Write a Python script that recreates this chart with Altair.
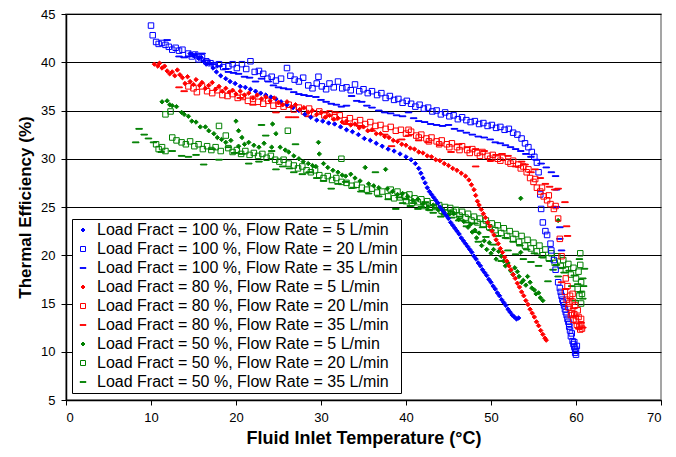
import altair as alt
import pandas as pd

# ---- data (x = fluid inlet temperature °C, y = thermal efficiency %) ----
b5 = [(14.6,40.9),(15.0,40.7),(15.3,40.8),(15.6,40.4),(15.9,40.5),(16.2,40.1),(16.5,39.8),(16.9,39.9),(17.3,39.4),(17.7,39.0),
      (18.2,38.6),(18.8,38.3),(19.3,38.0),(19.9,37.8),(20.5,37.5),(21.1,37.4),(21.7,37.2),(22.3,37.0),(22.9,36.8),(23.5,36.6),
      (24.1,36.4),(24.7,36.2),(25.3,35.9),(26.0,35.6),(26.7,35.3),(27.4,35.0),(28.1,34.6),(28.8,34.3),(29.5,34.0),(30.2,33.9),
      (30.9,33.7),(31.6,33.6),(32.3,33.3),(33.0,33.0),(33.7,32.8),(34.4,32.5),(35.1,32.1),(35.8,31.9),(36.5,31.6),(37.2,31.3),
      (37.9,31.0),(38.6,30.8),(39.3,30.5),(40.0,30.2),(40.6,29.9),(41.1,29.5),(41.5,29.0),(41.75,28.5),(42.0,28.0),(42.25,27.5),
      (42.5,27.0),(42.75,26.6),(43.0,26.3),(43.25,26.0),(43.5,25.7),(43.75,25.4),(44.0,25.0),(44.25,24.7),(44.5,24.4),(44.75,24.1),
      (45.0,23.8),(45.25,23.4),(45.5,23.1),(45.75,22.8),(46.0,22.5),(46.25,22.2),(46.5,21.8),(46.75,21.5),(47.0,21.2),(47.25,20.9),
      (47.5,20.6),(47.75,20.3),(48.0,19.9),(48.25,19.6),(48.5,19.2),(48.75,18.9),(49.0,18.5),(49.25,18.2),(49.5,17.9),(49.75,17.5),
      (50.0,17.2),(50.25,16.8),(50.5,16.5),(50.75,16.1),(51.0,15.8),(51.25,15.4),(51.5,15.1),(51.75,14.8),(52.0,14.4),(52.25,14.1),
      (52.5,13.8),(52.75,13.6),(53.0,13.4),(53.25,13.5)]

b20 = [(10.0,43.8),(10.2,42.8),(10.6,42.1),(10.9,41.9),(11.3,42.0),(11.7,41.8),(12.1,41.6),(12.5,41.3),(12.9,41.5),(13.3,41.2),
       (13.7,41.3),(14.4,40.9),(14.8,40.6),(15.2,40.8),(15.6,40.3),(16.0,40.5),(16.5,40.1),(17.0,39.9),(17.5,39.7),(18.0,39.8),
       (18.5,39.5),(19.1,39.6),(19.6,39.8),(20.1,39.4),(20.7,39.8),(21.2,39.3),(21.7,40.1),(22.2,39.0),(22.7,39.1),(23.2,38.8),
       (23.7,38.3),(24.2,38.5),(24.7,38.1),(25.3,38.3),(26.0,39.4),(26.4,38.6),(26.9,38.2),(27.4,38.0),(27.9,38.4),(28.5,37.6),
       (29.0,37.3),(29.5,37.8),(29.7,38.5),(30.1,37.5),(30.6,37.2),(31.0,37.8),(31.5,37.4),(32.0,38.0),(32.5,37.3),(33.0,37.4),
       (33.5,37.1),(34.0,37.7),(34.5,37.0),(35.0,37.2),(35.5,36.8),(36.0,37.0),(36.6,36.6),(37.1,36.8),(37.6,36.3),(38.1,36.5),
       (38.6,36.1),(39.1,36.2),(39.6,35.8),(40.1,36.0),(40.6,35.7),(41.1,35.4),(41.6,35.6),(42.1,35.2),(42.6,35.3),(43.1,34.9),
       (43.6,35.0),(44.1,34.6),(44.6,34.8),(45.1,34.4),(45.6,34.5),(46.1,34.1),(46.6,34.3),(47.1,34.0),(47.6,33.8),(48.1,33.9),
       (48.6,33.6),(49.1,33.7),(49.6,33.4),(50.1,33.5),(50.6,33.2),(51.1,33.3),(51.6,33.0),(52.1,33.1),(52.6,32.7),(53.1,32.5),
       (53.6,32.1),(54.0,31.6),(54.4,31.2),(54.8,30.7),(55.1,30.2),(55.4,29.6),(55.6,28.6),(55.8,26.3),(55.9,24.8),(56.1,23.4),
       (56.4,22.5),(56.6,22.1),(57.0,21.2),(57.1,20.5),(57.4,19.5),(57.6,18.5),(57.9,17.2),(58.1,16.6),(58.3,15.8),(58.5,15.1),
       (58.7,14.4),(58.9,13.8),(59.1,13.1),(59.2,12.6),(59.4,11.6),(59.6,11.1),(59.8,10.5),(59.9,10.3),(60.0,9.7),(59.7,10.8),
       (59.3,12.2),(59.0,13.4),(58.6,14.8),(58.2,16.2),(58.4,15.4),(58.8,14.1),(59.2,12.9),(59.5,11.9),(59.8,11.0),(60.0,10.1),
       (60.1,10.6),(59.9,9.9)]

b35 = [(11.9,42.3),(13.3,40.6),(13.9,40.5),(14.4,40.6),(16.0,40.9),(16.6,40.2),(17.3,39.8),(18.0,39.6),(18.8,39.3),(19.1,39.0),
       (19.7,38.9),(20.3,38.8),(21.0,38.5),(21.6,38.4),(22.3,38.0),(23.0,38.3),(23.8,38.0),(24.4,37.6),(25.0,37.4),(25.6,37.3),
       (26.2,37.2),(26.8,36.9),(27.4,36.7),(28.0,36.6),(28.6,36.5),(29.4,36.4),(30.0,36.1),(30.6,35.9),(31.2,35.7),(31.8,35.6),
       (32.4,35.4),(33.0,35.5),(33.6,36.5),(34.2,36.0),(34.8,35.9),(35.4,35.5),(36.0,35.3),(36.8,35.0),(37.5,34.8),(38.2,34.7),
       (38.9,34.5),(39.6,34.4),(40.3,34.8),(40.9,34.2),(41.5,33.9),(42.2,33.8),(42.9,33.6),(43.6,33.5),(44.3,33.4),(45.0,33.5),
       (45.7,33.1),(46.4,32.9),(47.1,32.7),(47.8,32.5),(48.5,32.3),(49.2,32.2),(49.9,32.0),(50.5,31.7),(51.1,31.6),(51.7,31.4),
       (52.3,31.2),(52.9,31.0),(53.5,30.8),(54.1,30.5),(54.7,30.2),(55.3,29.9),(55.9,29.5),(56.5,29.1),(57.1,28.6),(57.6,28.2),
       (57.7,26.8),(57.7,25.0),(58.1,22.9),(58.1,21.7),(58.3,20.5)]

r5 = [(10.4,39.8),(10.8,39.6),(11.0,39.9),(11.3,39.4),(11.6,39.6),(11.9,39.1),(12.2,38.8),(12.5,39.0),(12.8,38.6),(13.1,39.2),
      (13.4,38.7),(13.7,38.4),(14.0,37.8),(14.3,38.5),(14.6,38.0),(15.0,37.7),(15.3,38.2),(15.7,37.6),(16.0,37.9),(16.4,37.3),
      (16.8,37.6),(17.2,37.9),(17.6,37.2),(18.0,37.5),(18.4,37.0),(18.8,37.3),(19.2,36.9),(19.6,37.1),(20.0,36.7),(20.5,37.0),
      (21.0,36.6),(21.5,36.8),(22.0,36.3),(22.5,36.6),(23.0,36.2),(23.5,36.4),(24.0,36.0),(24.5,36.3),(25.0,35.8),(25.5,35.6),
      (26.0,35.9),(26.5,35.4),(27.0,35.6),(27.5,35.1),(28.0,35.3),(28.5,34.8),(29.0,35.0),(29.5,34.6),(30.0,34.8),(30.5,34.3),
      (31.0,34.5),(31.5,34.1),(32.0,34.2),(32.5,33.8),(33.0,33.9),(33.5,33.5),(34.0,33.6),(34.5,33.2),(35.0,33.3),(35.5,32.9),
      (36.0,33.0),(36.5,32.6),(37.0,32.6),(37.5,32.3),(38.0,32.2),(38.5,31.9),(39.0,31.8),(39.5,31.5),(40.0,31.4),(40.5,31.1),
      (41.0,31.0),(41.5,30.7),(42.0,30.6),(42.5,30.3),(43.0,30.2),(43.5,29.9),(44.0,29.8),(44.5,29.5),(45.0,29.3),(45.5,29.0),
      (46.0,28.8),(46.5,28.5),(47.0,28.2),(47.4,27.8),(47.7,27.3),(48.0,26.8),(48.2,26.2),(48.4,25.6),(48.6,25.2),(48.85,24.75),
      (49.1,24.3),(49.35,23.9),(49.6,23.4),(49.85,23.0),(50.1,22.5),(50.35,22.1),(50.6,21.6),(50.85,21.2),(51.1,20.7),(51.35,20.3),
      (51.6,19.8),(51.85,19.4),(52.1,18.9),(52.35,18.5),(52.6,18.0),(52.85,17.6),(53.1,17.1),(53.35,16.7),(53.6,16.2),(53.85,15.8),
      (54.1,15.3),(54.35,14.9),(54.6,14.4),(54.85,14.0),(55.1,13.6),(55.35,13.1),(55.6,12.7),(55.85,12.2),(56.1,11.8),(56.35,11.4),
      (56.5,11.2)]

r20 = [(14.4,37.5),(15.0,37.3),(15.4,36.9),(16.0,37.5),(16.6,37.0),(17.2,36.8),(17.8,37.1),(18.4,36.6),(19.0,36.5),(19.6,36.7),
       (20.2,36.3),(20.8,36.4),(21.4,36.0),(22.0,36.2),(22.6,35.9),(23.2,35.7),(23.8,36.0),(24.4,35.5),(25.0,35.7),(25.6,35.4),
       (26.2,35.6),(26.8,35.1),(27.4,35.3),(28.0,34.9),(28.6,35.2),(29.2,34.7),(29.8,34.9),(30.4,34.5),(31.0,34.7),(31.6,34.3),
       (32.2,34.5),(32.8,34.0),(33.4,34.2),(34.0,33.8),(34.6,34.0),(35.2,33.6),(35.8,33.8),(36.4,33.4),(37.0,33.5),(37.6,33.1),
       (38.2,33.3),(38.8,32.9),(39.4,33.0),(40.0,32.6),(40.6,32.8),(41.2,32.4),(41.8,32.5),(42.4,32.1),(43.0,32.2),(43.6,31.8),
       (44.2,31.9),(44.8,31.5),(45.4,31.6),(46.0,31.2),(46.6,31.3),(47.2,30.9),(47.8,31.0),(48.4,30.6),(49.0,30.7),(49.6,30.3),
       (50.2,30.4),(50.8,30.0),(51.4,30.1),(52.0,29.7),(52.6,29.8),(53.2,29.4),(53.8,29.2),(54.2,28.6),(54.6,28.0),(55.0,27.6),
       (55.4,27.0),(55.8,26.6),(56.2,26.1),(56.6,25.7),(57.0,25.3),(57.4,24.8),(57.9,23.8),(58.1,21.7),(58.3,19.9),(58.7,16.2),
       (58.9,15.4),(59.1,14.6),(59.3,15.8),(59.5,14.0),(59.7,13.3),(59.9,14.8),(60.1,12.8),(60.3,13.6),(60.5,12.3),(60.6,12.8),
       (59.0,16.8),(59.2,15.0),(59.4,13.8),(59.6,15.2),(59.8,13.9),(60.0,13.2),(60.2,14.3),(60.4,12.6),(60.6,13.4),(60.7,12.4),
       (58.8,17.6),(59.6,16.0),(40.3,33.0),(41.5,32.2),(42.7,31.8),(43.9,31.5),(45.1,31.2),(46.3,30.9),(47.5,30.6),(48.7,30.3),
       (49.9,30.0),(51.1,29.8),(52.3,29.5),(53.5,29.0),(54.4,28.9),(55.2,27.9),(56.0,27.0),(56.8,26.2),(57.6,25.1)]

r35 = [(13.3,37.4),(13.9,37.0),(20.5,36.3),(22.0,35.6),(24.7,34.8),(26.2,34.3),(27.0,34.3),(28.5,34.4),(30.5,34.8),(31.7,34.8),
       (33.0,33.6),(34.5,33.4),(36.0,32.9),(37.5,32.5),(38.3,31.3),(39.5,32.0),(40.3,32.4),(41.5,31.9),(42.6,31.7),(44.0,31.4),
       (45.3,30.7),(46.2,31.5),(47.2,31.2),(48.2,31.0),(48.2,29.2),(49.2,30.8),(50.0,29.8),(50.6,30.4),(51.3,30.5),(52.0,30.3),
       (52.9,29.2),(53.6,29.7),(54.0,29.4),(54.7,28.6),(55.2,28.9),(55.8,28.0),(56.4,27.4),(56.9,27.1),(57.5,26.8),(57.9,26.9),
       (58.7,25.5),(58.9,23.0),(59.0,22.0),(58.3,17.2),(58.8,16.5),(59.3,15.5),(59.7,14.5),(60.0,13.7),(60.3,12.4),(60.6,13.0),
       (60.8,12.5)]

g5 = [(11.3,35.9),(11.9,36.0),(12.2,35.6),(12.5,35.5),(13.0,35.4),(13.6,34.8),(13.9,34.6),(14.4,34.4),(14.8,33.9),(15.3,33.8),
      (15.8,33.3),(16.4,33.3),(16.8,32.9),(17.4,32.6),(17.8,32.2),(18.3,32.0),(18.8,31.7),(19.4,31.9),(20.0,33.9),(20.3,32.9),
      (20.7,32.2),(20.3,31.3),(21.0,31.5),(21.5,31.7),(22.1,31.4),(22.7,31.2),(23.3,31.6),(24.2,31.2),(24.3,33.6),(24.7,32.6),
      (25.2,31.2),(25.8,30.9),(26.2,30.7),(26.8,30.3),(27.4,30.0),(27.9,29.7),(28.5,29.5),(29.0,29.3),(29.4,29.2),(29.7,31.7),
      (29.8,30.5),(30.3,29.5),(30.8,29.1),(31.4,28.8),(32.0,28.6),(32.5,28.3),(32.9,28.2),(33.5,28.4),(34.0,28.0),(34.6,27.7),
      (35.2,29.1),(35.6,27.4),(36.2,27.2),(36.8,27.0),(37.6,28.9),(37.8,26.9),(38.4,26.6),(39.0,26.3),(39.6,26.4),(40.2,26.1),
      (40.8,25.7),(41.4,25.8),(42.0,25.3),(42.6,25.0),(43.2,25.2),(43.8,24.7),(44.4,24.5),(45.0,24.2),(45.6,24.3),(46.2,23.7),
      (46.8,23.5),(47.3,22.9),(47.8,22.4),(48.3,21.8),(48.9,21.0),(49.5,20.6),(50.0,20.2),(50.6,19.6),(51.2,19.9),(51.7,18.9),
      (52.3,18.4),(52.8,18.7),(53.3,17.8),(53.8,17.4),(54.3,17.8),(54.8,16.6),(55.3,16.0),(55.8,15.6),(56.1,15.3),(53.5,20.3),
      (53.5,25.9),(57.9,23.6),(47.6,23.2),(48.1,22.6),(48.6,22.3),(49.2,21.5),(49.8,21.3),(50.3,20.6),(50.9,20.4),(51.5,19.4),
      (52.0,19.2),(52.6,18.0),(53.1,18.3),(53.6,17.2),(54.1,16.9),(54.6,17.2),(55.1,16.4),(55.6,16.1)]

g20 = [(11.7,34.6),(12.3,34.9),(10.6,31.5),(10.9,31.0),(11.3,31.2),(11.7,30.8),(12.5,32.2),(13.0,31.9),(13.6,31.7),(14.1,31.5),
       (14.6,31.8),(15.1,31.3),(15.6,31.5),(16.1,31.0),(16.6,31.3),(17.1,30.9),(17.6,31.2),(18.0,33.4),(18.2,30.8),(18.8,32.4),
       (19.1,31.1),(19.6,30.7),(20.1,30.9),(20.6,30.5),(21.1,30.8),(21.6,30.4),(22.1,30.6),(22.6,30.3),(23.1,30.5),(23.6,30.1),
       (24.1,30.3),(24.6,29.9),(25.1,29.7),(25.6,29.9),(26.1,32.9),(26.2,29.5),(26.8,29.3),(27.3,29.0),(27.8,29.2),(28.3,28.8),
       (28.8,28.6),(29.3,28.8),(29.8,28.3),(30.3,28.0),(30.8,28.2),(31.3,27.8),(31.8,28.0),(32.4,30.0),(32.4,27.6),(33.0,27.5),
       (33.6,27.2),(34.2,27.3),(34.8,27.0),(35.4,26.8),(36.0,26.9),(36.6,26.5),(37.2,26.6),(37.9,26.1),(38.6,25.9),(39.3,26.0),
       (40.0,25.6),(40.7,25.4),(41.4,25.5),(42.1,25.1),(42.8,24.9),(43.5,25.0),(44.2,24.6),(44.9,24.4),(45.6,24.5),(46.3,24.1),
       (47.0,23.9),(47.7,23.6),(48.4,23.4),(49.1,23.2),(49.8,22.9),(50.5,22.6),(51.2,22.3),(51.9,22.0),(52.6,21.7),(53.3,21.4),
       (54.0,21.0),(54.7,20.7),(55.4,20.4),(56.1,20.0),(56.8,19.7),(57.5,19.2),(58.2,18.9),(58.8,18.5),(59.4,18.0),(60.0,17.6),
       (60.2,16.5),(60.4,15.8),(60.5,19.0),(60.6,17.2),(38.2,26.8),(39.0,26.6),(39.8,26.2),(40.4,26.3),(41.0,25.9),(41.8,25.8),
       (42.5,25.6),(43.2,25.4),(43.9,25.2),(44.6,25.0),(45.2,24.9),(45.9,24.7),(46.6,24.5),(47.3,24.3),(48.0,24.0),(48.7,23.8),
       (49.4,23.6),(50.1,23.3),(50.8,23.1),(51.5,22.8),(52.2,22.5),(52.9,22.2),(53.6,22.0),(54.3,21.6),(55.0,21.3),(55.7,21.0),
       (56.4,20.6),(57.1,20.2),(57.8,19.9),(58.5,19.5),(59.1,19.1),(59.7,18.7),(60.3,18.3),(60.5,20.2),(60.7,16.0),(60.6,15.0)]

g35 = [(8.2,31.7),(8.6,33.1),(9.2,32.5),(9.7,32.1),(10.3,31.7),(11.2,30.7),(12.5,30.8),(13.6,30.3),(14.4,30.2),(15.3,30.4),
       (16.2,29.4),(17.2,31.0),(18.0,29.9),(19.1,31.2),(19.8,30.6),(20.7,30.5),(21.5,29.5),(22.7,29.7),(23.0,33.5),(23.5,32.4),
       (24.2,30.8),(24.7,28.9),(25.5,29.2),(26.3,29.0),(26.8,28.6),(27.0,31.5),(27.8,28.4),(28.6,28.6),(29.5,28.0),(30.3,27.7),
       (31.2,26.9),(32.0,27.4),(32.9,27.6),(33.8,27.0),(34.7,26.6),(35.6,26.4),(36.4,28.6),(36.8,26.1),(37.9,25.8),(38.8,24.8),
       (39.6,25.4),(40.5,25.1),(41.4,24.8),(42.3,25.5),(43.2,24.4),(44.1,24.0),(45.3,24.5),(46.2,23.6),(47.1,23.0),(48.0,22.4),
       (48.5,21.4),(49.4,21.9),(50.3,21.1),(51.2,19.4),(52.0,20.5),(52.9,20.1),(53.8,19.6),(54.7,19.3),(55.6,18.9),(56.7,17.3),
       (57.3,18.5),(57.9,17.8),(58.6,18.2),(59.5,16.8),(59.9,15.3),(60.2,17.0),(60.5,16.2),(60.8,15.5),(61.0,18.6),
       (39.2,26.0),(40.0,25.8),(40.9,25.4),(41.8,25.0),(42.7,24.7),(43.6,24.9),(44.5,24.2),(45.4,23.9),(46.3,24.0),(47.2,23.4),
       (48.1,23.3),(49.0,22.9),(50.0,22.6),(50.8,22.0),(51.7,21.8),(52.6,21.4),(53.4,21.0),(54.2,20.6),(55.1,20.2),(56.0,19.8),
       (56.9,19.4),(57.7,19.0),(58.4,18.7),(59.2,18.4),(59.8,17.9),(60.4,19.6),(60.8,17.6),(60.9,16.8)]

series_names = [
    "Load Fract = 100 %, Flow Rate = 5 L/min",
    "Load Fract = 100 %, Flow Rate = 20 L/min",
    "Load Fract = 100 %, Flow Rate = 35 L/min",
    "Load Fract = 80 %, Flow Rate = 5 L/min",
    "Load Fract = 80 %, Flow Rate = 20 L/min",
    "Load Fract = 80 %, Flow Rate = 35 L/min",
    "Load Fract = 50 %, Flow Rate = 5 L/min",
    "Load Fract = 50 %, Flow Rate = 20 L/min",
    "Load Fract = 50 %, Flow Rate = 35 L/min",
]
series_data = [b5, b20, b35, r5, r20, r35, g5, g20, g35]
x_ticks = [0, 10, 20, 30, 40, 50, 60, 70]
y_ticks = [5, 10, 15, 20, 25, 30, 35, 40, 45]

# ---- styling ----
BLUE, RED, GREEN = "#0000FF", "#FF0000", "#008000"
stroke_range = [BLUE] * 3 + [RED] * 3 + [GREEN] * 3
DIAMOND = "M0,-0.8L0.8,0L0,0.8L-0.8,0Z"
DASH = "M-1.2,-0.15H1.2V0.15H-1.2Z"
shape_range = [DIAMOND, "square", DASH] * 3
fill_range = []
for c in [BLUE, RED, GREEN]:
    fill_range += [c, "transparent", c]

# draw order: green first, then squares/dashes, diamonds (5 L/min) of blue and red on top
draw_order = [6, 7, 8, 1, 2, 4, 5, 0, 3]
rows = []
for i in draw_order:
    for (x, y) in series_data[i]:
        rows.append({"temp": x, "eff": y, "series": series_names[i]})
df = pd.DataFrame(rows)

legend = alt.Legend(
    title=None, orient="none", legendX=6, legendY=205,
    fillColor="white", strokeColor="black", padding=3,
    labelFont="Liberation Sans", labelFontSize=16, labelColor="black",
    labelLimit=500, symbolSize=25, symbolStrokeWidth=1, rowPadding=3,
    labelOffset=6, symbolOffset=0,
)

chart = alt.Chart(df).mark_point(strokeWidth=1, opacity=1).encode(
    x=alt.X("temp:Q",
            scale=alt.Scale(domain=[0, 70], nice=False),
            axis=alt.Axis(values=x_ticks, title="Fluid Inlet Temperature (°C)", grid=False,
                          labelFontSize=13, titleFontSize=18, titlePadding=5, labelPadding=6)),
    y=alt.Y("eff:Q",
            scale=alt.Scale(domain=[5, 45], nice=False, zero=False),
            axis=alt.Axis(values=y_ticks, title="Thermal Efficiency (%)", grid=True,
                          labelFontSize=13, titleFontSize=17, titlePadding=6, labelPadding=6)),
    stroke=alt.Stroke("series:N", scale=alt.Scale(domain=series_names, range=stroke_range), legend=legend),
    fill=alt.Fill("series:N", scale=alt.Scale(domain=series_names, range=fill_range), legend=legend),
    shape=alt.Shape("series:N", scale=alt.Scale(domain=series_names, range=shape_range), legend=legend),
).properties(
    width=595, height=386,
    padding={"left": 8, "top": 0, "right": 0, "bottom": 2},
).configure_view(
    stroke="#888888", strokeWidth=1.5,
).configure_axis(
    domainColor="black", domainWidth=1.5, tickColor="black", tickSize=5,
    gridColor="black", gridWidth=1, gridOpacity=1,
    labelColor="black", titleColor="black",
    labelFont="Liberation Sans", titleFont="Liberation Sans", titleFontWeight="bold",
)

chart.save("out.html", embed_options={"renderer": "svg", "actions": False})
